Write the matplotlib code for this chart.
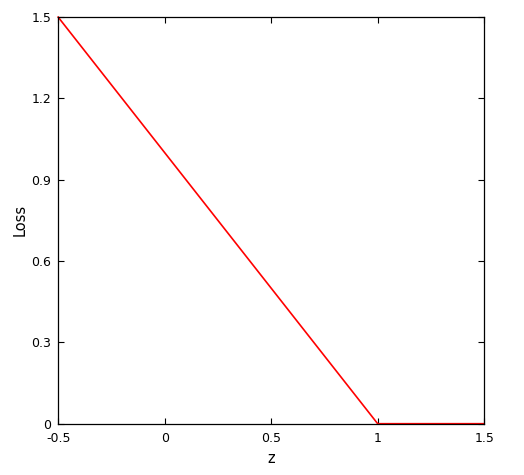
import matplotlib
matplotlib.use("Agg")
import matplotlib.pyplot as plt

# hinge loss points
z = [-0.5, 1.0, 1.5]
loss = [1.5, 0.0, 0.0]

x_ticks = [-0.5, 0, 0.5, 1, 1.5]
x_labels = ["-0.5", "0", "0.5", "1", "1.5"]
y_ticks = [0, 0.3, 0.6, 0.9, 1.2, 1.5]
y_labels = ["0", "0.3", "0.6", "0.9", "1.2", "1.5"]

fig = plt.figure(figsize=(5.24, 4.75), dpi=100)
ax = fig.add_axes([0.111, 0.108, 0.813, 0.856])

ax.plot(z, loss, color="red", linewidth=1.2, clip_on=False)

ax.set_xlim(-0.5, 1.5)
ax.set_ylim(0, 1.5)
ax.set_xticks(x_ticks)
ax.set_xticklabels(x_labels)
ax.set_yticks(y_ticks)
ax.set_yticklabels(y_labels)
ax.tick_params(direction="in", top=True, right=True, length=4, width=0.8,
               labelsize=9)
ax.tick_params(axis="x", pad=6)
ax.tick_params(axis="y", pad=5)
for s in ax.spines.values():
    s.set_linewidth(0.9)

ax.set_xlabel("z", fontsize=10.5, labelpad=4)
ax.set_ylabel("Loss", fontsize=10.5, labelpad=3)

fig.savefig("out.png", dpi=100)
